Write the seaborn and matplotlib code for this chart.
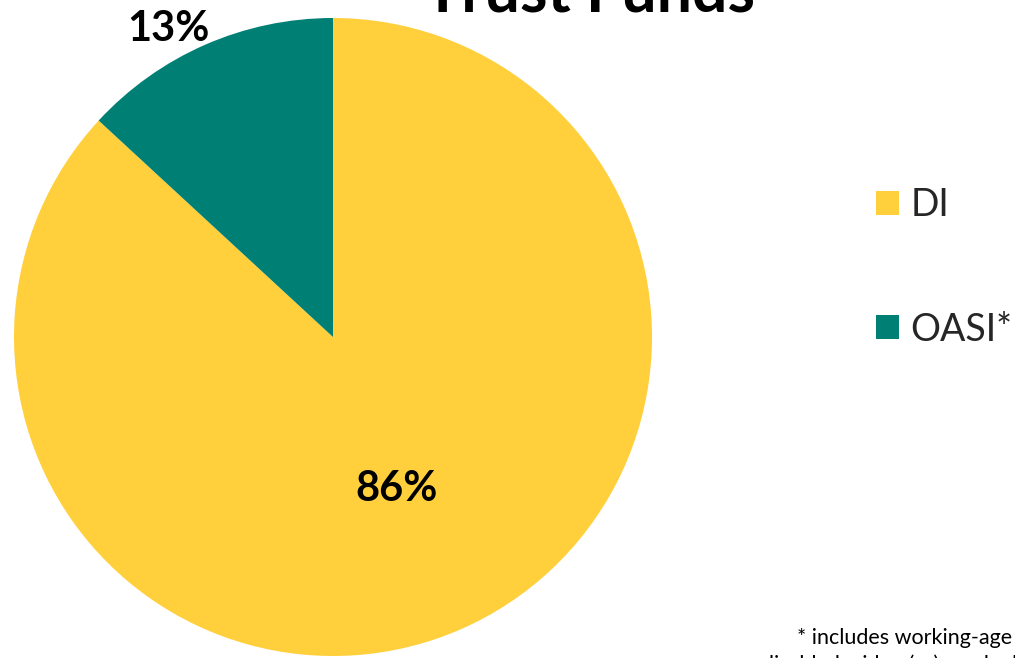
import matplotlib
matplotlib.use("Agg")
import matplotlib.pyplot as plt
import seaborn as sns
from matplotlib.patches import Patch

sns.set_theme(style="white")
plt.rcParams["font.family"] = ["Lato", "DejaVu Sans"]

categories = ["DI", "OASI*"]
shares = [86, 13]
colors = ["#FFCF3C", "#007F74"]
title = "Trust Funds"
footnote_lines = ["* includes working-age",
                  "disabled widow(er)s and adult children"]

W, H = 1015, 658
fig = plt.figure(figsize=(W / 100, H / 100), dpi=100)
fig.patch.set_facecolor("white")

# pie axes: centre (333, 337) px, radius 319 px
cx, cy, r = 333, 337, 319
ax = fig.add_axes([(cx - r) / W, (H - cy - r) / H, 2 * r / W, 2 * r / H])
wedges, _ = ax.pie(shares, colors=colors, startangle=90, counterclock=False,
                   radius=1, wedgeprops=dict(linewidth=0))
ax.set_xlim(-1, 1)
ax.set_ylim(-1, 1)
ax.set_aspect("equal")
ax.axis("off")
for w in wedges:
    w.set_clip_on(False)

# percentage labels
label_pos = [(0.20, -0.478), (-0.517, 0.965)]
for val, (x, y) in zip(shares, label_pos):
    ax.text(x, y, f"{val}%", ha="center", va="center", fontsize=30,
            fontweight="bold", color="black", clip_on=False)

# title, partly above the top edge
fig.text(590 / W, (H - 12) / H, title, ha="center", va="baseline",
         fontsize=45, fontweight="bold", color="black")

handles = [Patch(facecolor=c, edgecolor="none") for c in colors]
leg = fig.legend(handles, categories, loc="upper left",
                 bbox_to_anchor=(876 / W, (H - 187) / H),
                 frameon=False, fontsize=27, handlelength=0.62,
                 handleheight=0.62, handletextpad=0.3, labelspacing=2.36,
                 borderaxespad=0, borderpad=0)

fig.text(797 / W, (H - 644) / H, footnote_lines[0], ha="left",
         va="baseline", fontsize=15.5, color="black")
fig.text(762 / W, (H - 671) / H, footnote_lines[1], ha="left",
         va="baseline", fontsize=15.5, color="black")

fig.savefig("out.png", dpi=100)
